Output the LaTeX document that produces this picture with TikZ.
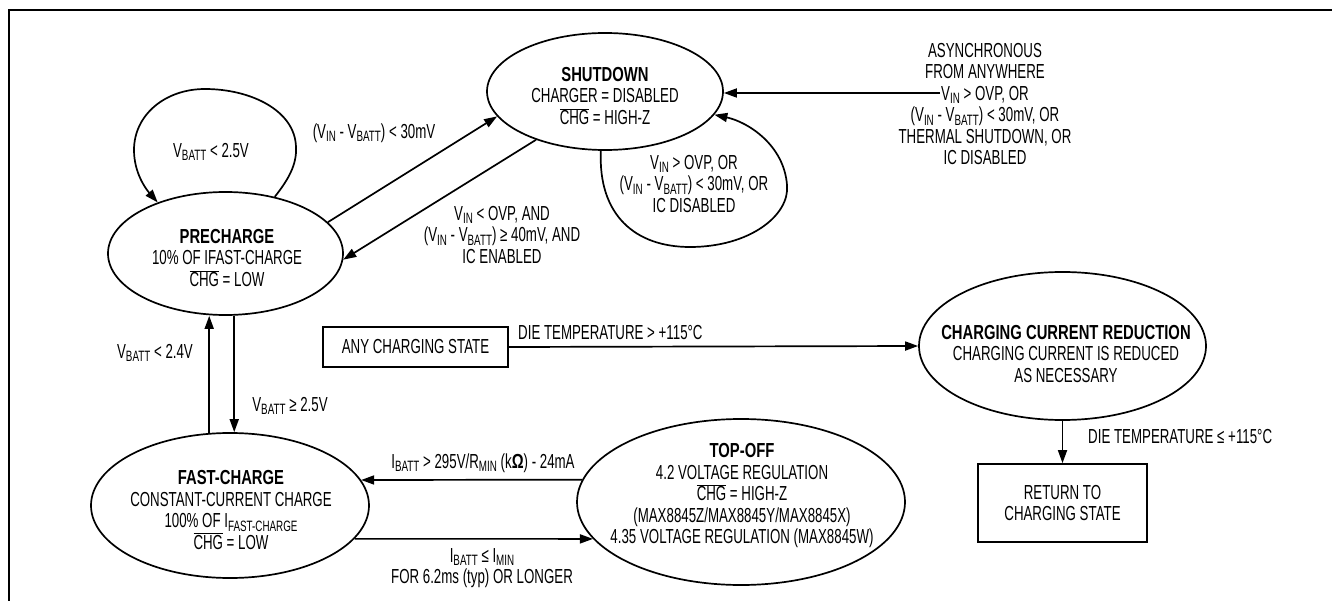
\documentclass[tikz,border=0pt]{standalone}
\usepackage{fontspec}
\setmainfont{Liberation Sans}[FakeStretch=0.655, BoldFeatures={FakeStretch=0.73}]
\usetikzlibrary{shapes.geometric,arrows.meta}
\newcommand\subs[1]{\raisebox{-3.5pt}{\fontsize{15}{15}\selectfont #1}}
\newcommand\ovl[1]{$\overline{\mbox{#1}}$}
\begin{document}
\begin{tikzpicture}[x=1pt,y=-1pt,
  font=\fontsize{20.3}{21.5}\selectfont,
  stateshape/.style={draw, ellipse, line width=1.7pt, inner sep=0pt},
  lbl/.style={align=center, inner sep=0pt},
  boxnode/.style={draw, rectangle, line width=1.7pt, inner sep=0pt, align=center},
  arr/.style={-{Triangle[length=13pt,width=9pt]}, line width=1.7pt}]
\useasboundingbox (0,0) rectangle (1332,601);
\draw[line width=2.6pt] (9,601) -- (9,10) -- (1332,10);

% state shapes
\node[stateshape, minimum width=236pt, minimum height=117pt] (sd) at (605,91.5) {};
\node[stateshape, minimum width=235pt, minimum height=123pt] (pre) at (225.5,253.5) {};
\node[stateshape, minimum width=278pt, minimum height=145pt] (fast) at (230,505.5) {};
\node[stateshape, minimum width=328pt, minimum height=166pt] (top) at (741,502) {};
\node[stateshape, minimum width=287pt, minimum height=148pt] (ccr) at (1062.5,346) {};
\node[boxnode, minimum width=185pt, minimum height=40pt] (any) at (415.5,347) {ANY CHARGING STATE};
\node[boxnode, minimum width=169pt, minimum height=78pt] (ret) at (1062.5,503) {RETURN TO\\CHARGING STATE};

% state texts
\node[lbl] (sdt) at (605,96) {\textbf{SHUTDOWN}\\CHARGER = DISABLED\\\ovl{CHG} = HIGH-Z};
\node[lbl] (pret) at (227,258) {\textbf{PRECHARGE}\\10\% OF IFAST-CHARGE\\\ovl{CHG} = LOW};
\node[lbl] (fastt) at (231,510) {\textbf{FAST-CHARGE}\\CONSTANT-CURRENT CHARGE\\100\% OF I\subs{FAST-CHARGE}\\\ovl{CHG} = LOW};
\node[lbl] (topt) at (742,496) {\textbf{TOP-OFF}\\4.2 VOLTAGE REGULATION\\\ovl{CHG} = HIGH-Z\\(MAX8845Z/MAX8845Y/MAX8845X)\\4.35 VOLTAGE REGULATION (MAX8845W)};
\node[lbl] (ccrt) at (1066,354) {\textbf{CHARGING CURRENT REDUCTION}\\CHARGING CURRENT IS REDUCED\\AS NECESSARY};

% connectors
\draw[arr] (pre.17.8) -- (sd.193.4);
\draw[arr] (sd.215.9) -- (pre.357.8);
\draw[arr] (pre.49) .. controls (288,180) and (297,165) .. (296,147)
  .. controls (295,110) and (250,89) .. (205,89)
  .. controls (165,89) and (134,115) .. (134,150)
  .. controls (134,172) and (145,188) .. (pre.143);
\draw[arr] (sd.266) .. controls (598,215) and (635,247) .. (690,247)
  .. controls (750,247) and (790,215) .. (787,185)
  .. controls (784,145) and (748,122) .. (sd.348);
\coordinate (asy) at (940,93);
\draw[arr] (asy) -- (asy -| sd.east);
\draw[arr] (fast.106) -- (fast.106 |- pre.south);
\draw[arr] (pre.278) -- (pre.278 |- fast.north);
\draw[arr] (top.172) -- (fast.11.6);
\draw[arr] (fast.-15.2) -- (top.194.6);
\draw[arr] (any.east) -- (ccr.west);
\draw[arr] (ccr.south) -- (ret.north);

% labels
\node[lbl] (l1) at (211,152) {V\subs{BATT} < 2.5V};
\node[lbl] (l2) at (374,133) {(V\subs{IN} - V\subs{BATT}) < 30mV};
\node[lbl] (l3) at (502,235) {V\subs{IN} < OVP, AND\\(V\subs{IN} - V\subs{BATT}) ≥ 40mV, AND\\IC ENABLED};
\node[lbl] (l4) at (694,184) {V\subs{IN} > OVP, OR\\(V\subs{IN} - V\subs{BATT}) < 30mV, OR\\IC DISABLED};
\node[lbl] (l5) at (985,104) {ASYNCHRONOUS\\FROM ANYWHERE\\V\subs{IN} > OVP, OR\\(V\subs{IN} - V\subs{BATT}) < 30mV, OR\\THERMAL SHUTDOWN, OR\\IC DISABLED};
\node[lbl] (l6) at (155,353) {V\subs{BATT} < 2.4V};
\node[lbl] (l7) at (290,406) {V\subs{BATT} ≥ 2.5V};
\node[lbl, anchor=west] (l8) at (518,333) {DIE TEMPERATURE > +115°C};
\node[lbl, anchor=west] (l9) at (1088,437) {DIE TEMPERATURE ≤ +115°C};
\node[lbl] (l10) at (483,463) {I\subs{BATT} > 295V/R\subs{MIN} (k\textbf{Ω}) - 24mA};
\node[lbl] (l11) at (482,568) {I\subs{BATT} ≤ I\subs{MIN}\\FOR 6.2ms (typ) OR LONGER};
\end{tikzpicture}
\end{document}
